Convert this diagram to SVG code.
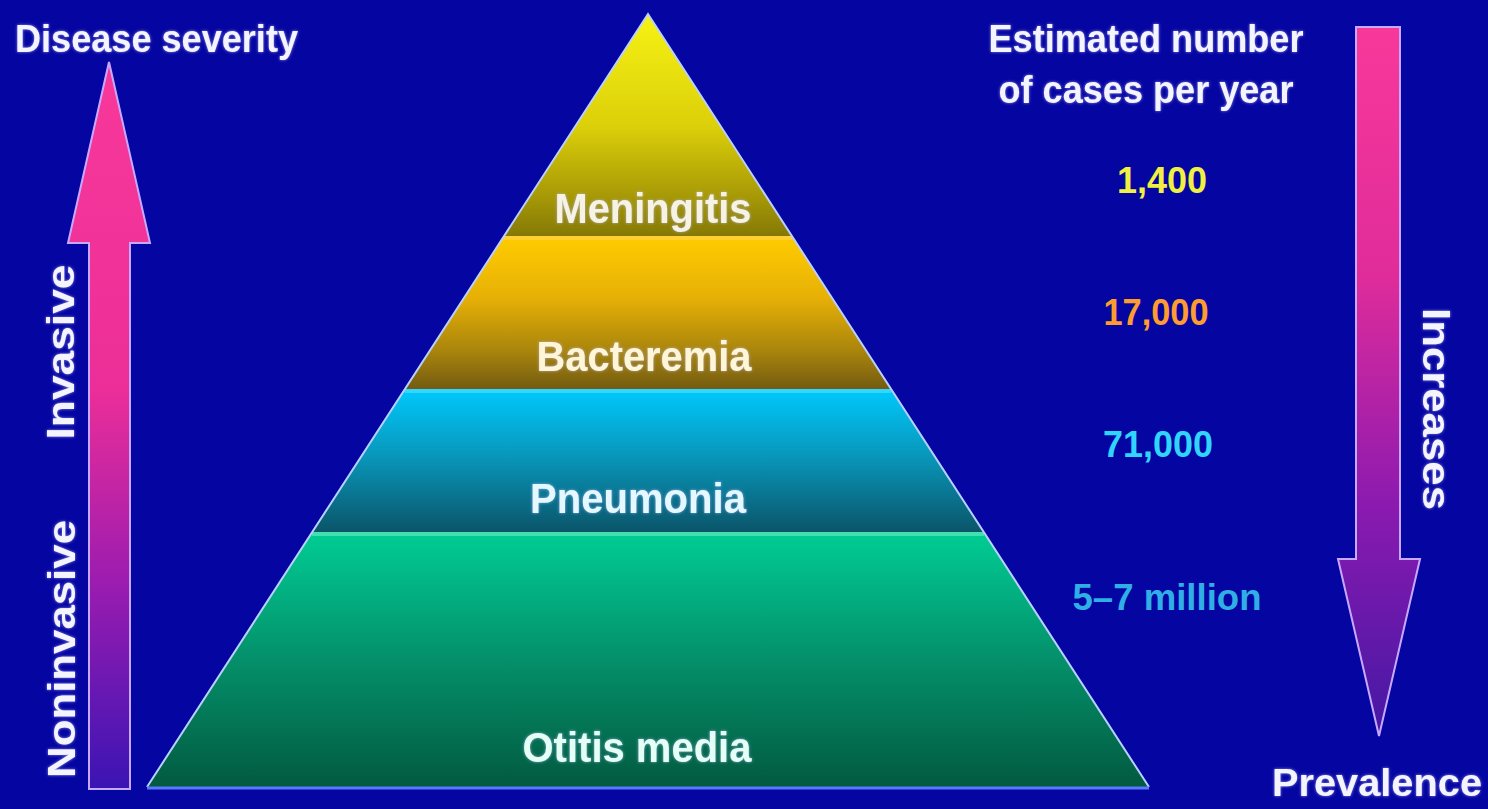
<svg xmlns="http://www.w3.org/2000/svg" width="1488" height="809" viewBox="0 0 1488 809">
  <defs>
    <linearGradient id="gMen" x1="0" y1="0" x2="0" y2="1">
      <stop offset="0" stop-color="#f6f214"/>
      <stop offset="0.5" stop-color="#dcd00a"/>
      <stop offset="0.8" stop-color="#aa9c06"/>
      <stop offset="1" stop-color="#847806"/>
    </linearGradient>
    <linearGradient id="gBac" x1="0" y1="0" x2="0" y2="1">
      <stop offset="0" stop-color="#ffcc00"/>
      <stop offset="0.4" stop-color="#e6b006"/>
      <stop offset="0.75" stop-color="#a8840c"/>
      <stop offset="1" stop-color="#725a10"/>
    </linearGradient>
    <linearGradient id="gPne" x1="0" y1="0" x2="0" y2="1">
      <stop offset="0" stop-color="#00c8fc"/>
      <stop offset="0.45" stop-color="#0898bc"/>
      <stop offset="1" stop-color="#0a5468"/>
    </linearGradient>
    <linearGradient id="gOti" x1="0" y1="0" x2="0" y2="1">
      <stop offset="0" stop-color="#00cc94"/>
      <stop offset="0.5" stop-color="#04906a"/>
      <stop offset="1" stop-color="#025a40"/>
    </linearGradient>
    <linearGradient id="gUp" gradientUnits="userSpaceOnUse" x1="0" y1="60" x2="0" y2="790">
      <stop offset="0" stop-color="#f8389a"/>
      <stop offset="0.45" stop-color="#ec2e98"/>
      <stop offset="0.72" stop-color="#9a1cb0"/>
      <stop offset="1" stop-color="#3a14b4"/>
    </linearGradient>
    <linearGradient id="gDown" gradientUnits="userSpaceOnUse" x1="0" y1="27" x2="0" y2="735">
      <stop offset="0" stop-color="#f8389a"/>
      <stop offset="0.35" stop-color="#e02c9a"/>
      <stop offset="0.68" stop-color="#8a1ab0"/>
      <stop offset="1" stop-color="#4418a4"/>
    </linearGradient>
    <filter id="glow" x="-10%" y="-20%" width="120%" height="140%">
      <feGaussianBlur in="SourceAlpha" stdDeviation="1.6" result="b"/>
      <feFlood flood-color="#b8b8ff" flood-opacity="0.75"/>
      <feComposite in2="b" operator="in" result="g"/>
      <feMerge><feMergeNode in="g"/><feMergeNode in="SourceGraphic"/></feMerge>
    </filter>
  </defs>
  <style>
    text { font-family: "Liberation Sans", Arial, sans-serif; font-weight: bold; }
    .lbl { font-size: 42px; text-anchor: middle; filter: url(#glow); }
    .hdr { font-size: 38px; fill: #f4f4ff; filter: url(#glow); }
    .num { font-size: 37px; text-anchor: middle; }
    .side { stroke: #b8d0ff; stroke-width: 2; }
    .sep { stroke-width: 4; }
    .arrow { stroke: #c8a8ff; stroke-width: 2; stroke-linejoin: miter; }
  </style>

  <rect x="0" y="0" width="1488" height="809" fill="#0505a2"/>

  <g id="pyramid">
    <g id="meningitis">
      <polygon points="648,14 792.5,237 503.5,237" fill="url(#gMen)"/>
      <text class="lbl" x="653" y="223" fill="#f6f2e4" textLength="197" lengthAdjust="spacingAndGlyphs">Meningitis</text>
    </g>
    <g id="bacteremia">
      <polygon points="503.5,237 792.5,237 891.7,390 404.3,390" fill="url(#gBac)"/>
      <line class="sep" x1="504" y1="238" x2="792" y2="238" stroke="#ffd030"/>
      <text class="lbl" x="644" y="371" fill="#fff6d8" textLength="215" lengthAdjust="spacingAndGlyphs">Bacteremia</text>
    </g>
    <g id="pneumonia">
      <polygon points="404.3,390 891.7,390 984.4,533 311.6,533" fill="url(#gPne)"/>
      <line class="sep" x1="405" y1="391" x2="891" y2="391" stroke="#30d8ff"/>
      <text class="lbl" x="638" y="513" fill="#e4f8ff" textLength="216" lengthAdjust="spacingAndGlyphs">Pneumonia</text>
    </g>
    <g id="otitis-media">
      <polygon points="311.6,533 984.4,533 1149,787 147,787" fill="url(#gOti)"/>
      <line class="sep" x1="312" y1="534" x2="984" y2="534" stroke="#40e0b0"/>
      <text class="lbl" x="637" y="762" fill="#e4fff4" textLength="229" lengthAdjust="spacingAndGlyphs">Otitis media</text>
    </g>
    <polyline class="side" points="147,787 648,14 1149,787" fill="none"/>
    <line x1="147" y1="788" x2="1149" y2="788" stroke="#5a78ff" stroke-width="3"/>
  </g>

  <g id="arrows">
    <g id="severity-arrow">
      <polygon class="arrow" points="109,62 150,243 130,243 130,789 89,789 89,243 68,243" fill="url(#gUp)"/>
    </g>
    <g id="prevalence-arrow">
      <polygon class="arrow" points="1356,27 1400,27 1400,559 1420,559 1379,736 1338,559 1356,559" fill="url(#gDown)"/>
    </g>
  </g>

  <g id="severity-labels">
    <text class="hdr" x="15" y="52" textLength="283" lengthAdjust="spacingAndGlyphs">Disease severity</text>
    <text class="hdr" transform="translate(74,352) rotate(-90)" text-anchor="middle" font-size="38" textLength="175" lengthAdjust="spacingAndGlyphs">Invasive</text>
    <text class="hdr" transform="translate(75,649) rotate(-90)" text-anchor="middle" font-size="38" textLength="258" lengthAdjust="spacingAndGlyphs">Noninvasive</text>
  </g>

  <g id="cases-labels">
    <text class="hdr" x="1146" y="52" text-anchor="middle" textLength="315" lengthAdjust="spacingAndGlyphs">Estimated number</text>
    <text class="hdr" x="1146" y="103" text-anchor="middle" textLength="295" lengthAdjust="spacingAndGlyphs">of cases per year</text>
    <text class="num" x="1162" y="193" fill="#f0f040" textLength="90" lengthAdjust="spacingAndGlyphs">1,400</text>
    <text class="num" x="1156" y="325" fill="#ff9c30" textLength="105" lengthAdjust="spacingAndGlyphs">17,000</text>
    <text class="num" x="1158" y="457" fill="#30d4ff" textLength="110" lengthAdjust="spacingAndGlyphs">71,000</text>
    <text class="num" x="1167" y="610" fill="#30aee6" textLength="189" lengthAdjust="spacingAndGlyphs">5–7 million</text>
  </g>

  <g id="prevalence-labels">
    <text class="hdr" transform="translate(1423,409) rotate(90)" text-anchor="middle" font-size="34" textLength="202" lengthAdjust="spacingAndGlyphs">Increases</text>
    <text class="hdr" x="1377" y="796" text-anchor="middle" font-size="40" textLength="210" lengthAdjust="spacingAndGlyphs">Prevalence</text>
  </g>
</svg>
